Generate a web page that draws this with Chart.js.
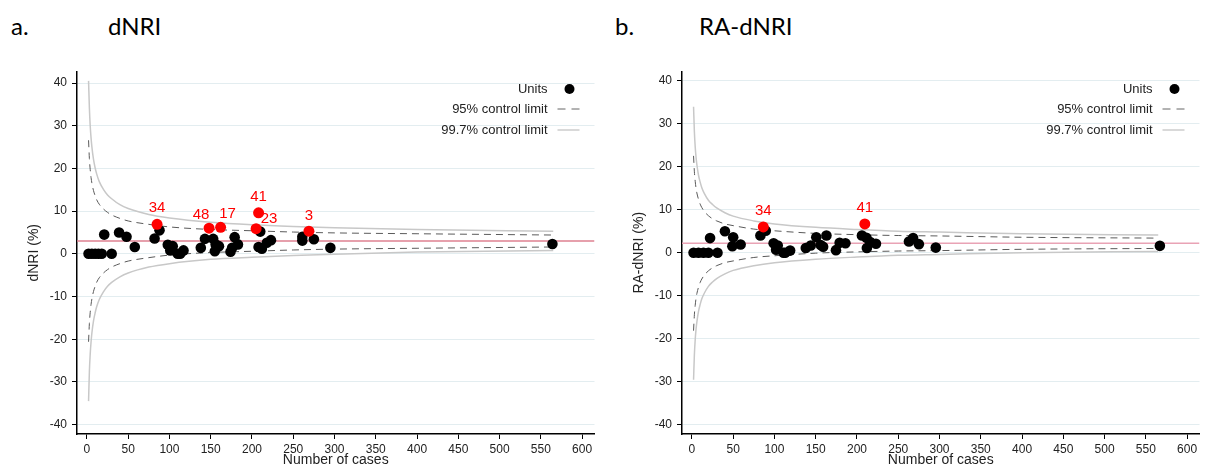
<!DOCTYPE html>
<html><head><meta charset="utf-8">
<script src="https://cdn.jsdelivr.net/npm/chart.js@4.4.1/dist/chart.umd.min.js"></script>
<style>
html,body{margin:0;padding:0;background:#fff;width:1205px;height:469px;overflow:hidden}
.box{position:absolute;top:0;width:600px;height:469px}
.ttl{position:absolute;font-family:Lato,'Liberation Sans',sans-serif;font-size:24px;line-height:1;color:#000;top:14px}
</style></head><body>
<div class="ttl" style="left:11px">a.</div><div class="ttl" style="left:108px">dNRI</div>
<div class="ttl" style="left:615px">b.</div><div class="ttl" style="left:699px">RA-dNRI</div>
<div class="box" style="left:0"><canvas id="c1" width="600" height="469"></canvas></div>
<div class="box" style="left:605px"><canvas id="c2" width="600" height="469"></canvas></div>
<script>
// ---- tick labels ----
const xTicks = [0,50,100,150,200,250,300,350,400,450,500,550,600];
const yTicks = [-40,-30,-20,-10,0,10,20,30,40];

// ---- control-limit curves ----
const limitN = [2,3,4,5,6,8,10,12,15,20,25,30,40,50,75,100,150,200,250,300,400,565];

// a. dNRI
const dnriMean = 3.0;
const dnriUpper95  = [26.6,22.3,19.7,17.9,16.6,14.8,13.6,12.6,11.6,10.5,9.7,9.1,8.3,7.7,6.9,6.3,5.7,5.4,5.1,4.9,4.7,4.4];
const dnriLower95  = [-20.6,-16.3,-13.7,-11.9,-10.6,-8.8,-7.6,-6.6,-5.6,-4.5,-3.7,-3.1,-2.3,-1.7,-0.9,-0.3,0.3,0.6,0.9,1.1,1.3,1.6];
const dnriUpper997 = [40.5,34.2,30.0,27.2,25.1,22.1,20.1,18.6,16.9,15.1,13.8,12.9,11.5,10.6,9.2,8.4,7.4,6.8,6.4,6.1,5.7,5.3];
const dnriLower997 = [-34.5,-27.6,-23.5,-20.7,-18.6,-15.7,-13.8,-12.3,-10.7,-8.9,-7.6,-6.7,-5.4,-4.5,-3.1,-2.3,-1.3,-0.8,-0.4,-0.1,0.4,0.8];
const dnriN   = [2,6,10,14,18,30,21,39,48,58,82,88,98,104,101,110,113,117,138,143,153,156,160,155,174,176,179,183,210,208,212,218,223,261,261,275,295,564];
const dnriVal = [0,0,0,0,0,0,4.5,5.0,4.0,1.6,3.6,5.5,2.1,1.8,0.8,0,0,0.8,1.4,3.5,3.5,2.2,1.8,0.6,0.5,1.4,3.9,2.2,5.2,1.6,1.2,2.6,3.2,4.0,3.1,3.4,1.4,2.3];
const dnriOutN     = [85,148,162,208,205,269];
const dnriOutVal   = [6.9,6.0,6.2,9.6,5.9,5.3];
const dnriOutLabel = ['34','48','17','41','23','3'];

// b. RA-dNRI
const radnriMean = 2.2;
const radnriUpper95  = [22.5,18.8,16.6,15.0,13.9,12.4,11.3,10.5,9.6,8.6,7.9,7.4,6.7,6.3,5.5,5.1,4.5,4.2,4.0,3.9,3.6,3.4];
const radnriLower95  = [-18.1,-14.4,-12.2,-10.6,-9.5,-8.0,-6.9,-6.1,-5.2,-4.2,-3.5,-3.0,-2.3,-1.9,-1.1,-0.7,-0.1,0.2,0.4,0.5,0.8,1.0];
const radnriUpper997 = [33.9,28.1,24.6,22.2,20.5,18.0,16.4,15.1,13.8,12.2,11.2,10.4,9.3,8.5,7.4,6.7,5.9,5.4,5.0,4.8,4.4,4.1];
const radnriLower997 = [-29.5,-23.7,-20.2,-17.8,-16.1,-13.6,-12.0,-10.7,-9.4,-7.8,-6.8,-6.0,-4.9,-4.1,-3.0,-2.3,-1.5,-1.0,-0.6,-0.4,0.0,0.3];
const radnriN   = [2,8,14,20,31,22,40,50,49,59,83,89.5,99,104,102,111,113,119,138,144,150.7,156,159,163,174.5,179,186,206,211.5,212,216,223,263,268,275,295.5,567];
const radnriVal = [0,0,0,0,0,3.4,5.0,3.6,1.5,1.9,4.0,5.1,2.2,1.7,0.7,0,0,0.5,1.1,1.7,3.6,1.8,1.4,4.0,0.6,2.3,2.2,4.0,3.5,1.1,2.5,2.1,2.6,3.4,2.0,1.2,1.6];
const radnriOutN     = [86.5,209.5];
const radnriOutVal   = [6.0,6.7];
const radnriOutLabel = ['34','41'];

// ---- styling (not data) ----
const FONT = '"Liberation Sans", Arial, sans-serif';
Chart.defaults.font.family = FONT;
Chart.defaults.color = '#222';
const xMin = -12, xMax = 615;

const pts = (xs, ys) => xs.map((x, i) => ({x, y: ys[i]}));

const annot = {
  id: 'annot',
  afterDatasetsDraw(chart, args, o) {
    const {ctx, chartArea: a, scales: {x, y}} = chart;
    ctx.save();
    ctx.font = '15px ' + FONT;
    ctx.fillStyle = '#ff0000';
    ctx.textAlign = 'center';
    ctx.textBaseline = 'middle';
    o.outN.forEach((n, i) => {
      const off = o.offsets[i];
      ctx.fillText(o.labels[i], x.getPixelForValue(n) + off[0], y.getPixelForValue(o.outV[i]) + off[1]);
    });
    // legend
    const rows = [a.top + 17.5, a.top + 37.5, a.top + 58.5];
    ctx.font = '13px ' + FONT;
    ctx.fillStyle = '#222';
    ctx.textAlign = 'right';
    const tx = a.right - 47;
    ctx.fillText('Units', tx, rows[0]);
    ctx.fillText('95% control limit', tx, rows[1]);
    ctx.fillText('99.7% control limit', tx, rows[2]);
    ctx.beginPath();
    ctx.arc(a.right - 25, rows[0], 5, 0, Math.PI * 2);
    ctx.fillStyle = '#000';
    ctx.fill();
    ctx.setLineDash([8, 6]);
    ctx.strokeStyle = '#666';
    ctx.lineWidth = 1;
    ctx.beginPath(); ctx.moveTo(a.right - 37, rows[1]); ctx.lineTo(a.right - 15, rows[1]); ctx.stroke();
    ctx.setLineDash([]);
    ctx.strokeStyle = '#cccccc';
    ctx.lineWidth = 1.5;
    ctx.beginPath(); ctx.moveTo(a.right - 37, rows[2]); ctx.lineTo(a.right - 15, rows[2]); ctx.stroke();
    ctx.restore();
  }
};

function build(id, s) {
  const curve = (ys, color, dash, width) => ({
    data: pts(limitN, ys), showLine: true, pointRadius: 0, borderColor: color,
    borderWidth: width, borderDash: dash, cubicInterpolationMode: 'monotone', order: 3, fill: false
  });
  return new Chart(document.getElementById(id), {
    type: 'scatter',
    data: {
      datasets: [
        {data: pts(s.outN, s.outV), backgroundColor: '#ff0000', borderWidth: 0, pointRadius: 5.5, order: 0},
        {data: pts(s.n, s.v), backgroundColor: '#000', borderWidth: 0, pointRadius: 5.3, order: 1},
        curve(s.u95, '#5a5a5a', [7, 5], 1),
        curve(s.l95, '#5a5a5a', [7, 5], 1),
        curve(s.u997, '#c8c8c8', [], 1.5),
        curve(s.l997, '#c8c8c8', [], 1.5),
        {data: [{x: xMin, y: s.mean}, {x: xMax, y: s.mean}], showLine: true, pointRadius: 0,
         borderColor: s.meanColor, borderWidth: 1.5, order: 5}
      ]
    },
    options: {
      responsive: false, animation: false, devicePixelRatio: 1,
      layout: {padding: {top: 71.5, right: 5, left: 0, bottom: 0}},
      plugins: {legend: {display: false}, tooltip: {enabled: false},
        annot: {outN: s.outN, outV: s.outV, labels: s.labels, offsets: s.offsets}},
      scales: {
        x: {
          type: 'linear', min: xMin, max: xMax,
          afterFit(sc) { sc.height = 35; },
          afterBuildTicks(sc) { sc.ticks = xTicks.map(v => ({value: v})); },
          grid: {drawOnChartArea: false, drawTicks: true, tickLength: 5, tickColor: '#000', tickWidth: 1},
          border: {display: true, color: '#000', width: 1.5},
          ticks: {padding: 3, font: {size: 12}, color: '#222', maxRotation: 0, autoSkip: false},
          title: {display: true, text: 'Number of cases', font: {size: 14}, color: '#222', padding: {top: 0, bottom: 0}}
        },
        y: {
          type: 'linear', min: s.yMin, max: s.yMax,
          afterFit(sc) { sc.width = 77; },
          afterBuildTicks(sc) { sc.ticks = yTicks.map(v => ({value: v})); },
          grid: {color: '#e3edf0', lineWidth: 1, drawTicks: true, tickLength: 5, tickColor: '#000', tickWidth: 1},
          border: {display: true, color: '#000', width: 1.5},
          ticks: {padding: 5, font: {size: 12}, color: '#222'},
          title: {display: true, text: s.yTitle, font: {size: 14}, color: '#222', padding: {top: 26, bottom: 0}}
        }
      }
    },
    plugins: [annot]
  });
}

build('c1', {
  n: dnriN, v: dnriVal, outN: dnriOutN, outV: dnriOutVal, labels: dnriOutLabel,
  offsets: [[0,-16],[-8,-13.5],[7,-13],[0,-16],[13,-10],[0,-15.5]],
  u95: dnriUpper95, l95: dnriLower95, u997: dnriUpper997, l997: dnriLower997,
  mean: dnriMean, meanColor: '#de8090', yMin: -42.2, yMax: 42.7, yTitle: 'dNRI (%)'
});
build('c2', {
  n: radnriN, v: radnriVal, outN: radnriOutN, outV: radnriOutVal, labels: radnriOutLabel,
  offsets: [[0,-16],[0,-16]],
  u95: radnriUpper95, l95: radnriLower95, u997: radnriUpper997, l997: radnriLower997,
  mean: radnriMean, meanColor: '#e9a3b5', yMin: -42.1, yMax: 42.1, yTitle: 'RA-dNRI (%)'
});
</script>
</body></html>
